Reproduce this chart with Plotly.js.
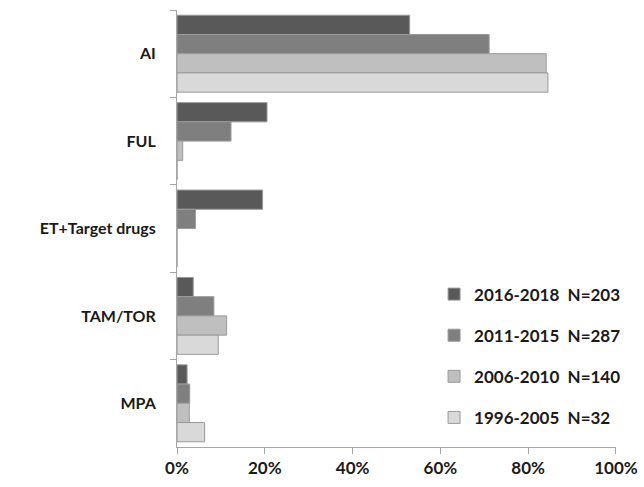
<!DOCTYPE html>
<html>
<head>
<meta charset="utf-8">
<script src="https://cdn.plot.ly/plotly-3.0.1.min.js"></script>
<style>html,body{margin:0;padding:0;background:#fff;}#chart{width:644px;height:487px;}</style>
</head>
<body>
<div id="chart"></div>
<script>
var categories = ["AI", "FUL", "ET+Target drugs", "TAM/TOR", "MPA"];
var seriesNames = ["2016-2018  N=203", "2011-2015  N=287", "2006-2010  N=140", "1996-2005  N=32"];
var s2016_2018 = [53.0, 20.5, 19.5, 3.7, 2.3];
var s2011_2015 = [71.1, 12.3, 4.2, 8.4, 2.9];
var s2006_2010 = [84.1, 1.3, 0, 11.3, 2.8];
var s1996_2005 = [84.5, 0, 0, 9.4, 6.3];
var xTickVals = [0, 20, 40, 60, 80, 100];
var xTickText = ["0%", "20%", "40%", "60%", "80%", "100%"];

var seriesValues = [s2016_2018, s2011_2015, s2006_2010, s1996_2005];
var colors = ["#595959", "#7f7f7f", "#bfbfbf", "#d9d9d9"];

var FONT = "Lato, 'Liberation Sans', Arial, sans-serif";

var traces = seriesValues.map(function (vals, i) {
  return {
    type: "bar",
    orientation: "h",
    name: seriesNames[i],
    legendgroup: "g" + i,
    y: categories,
    x: vals,
    marker: { color: colors[i], line: { color: "#9a9a9a", width: 1 } },
    hoverinfo: "x+y"
  };
});

var layout = {
  width: 644,
  height: 487,
  margin: { l: 177, r: 5, t: 10, b: 40 },
  paper_bgcolor: "#ffffff",
  plot_bgcolor: "#ffffff",
  barmode: "group",
  bargap: 0.12,
  bargroupgap: 0,
  font: { family: FONT, size: 16, color: "#1a1a1a" },
  showlegend: true,
  legend: {
    x: 0.972, xanchor: "right",
    y: 0.39, yanchor: "top",
    traceorder: "grouped",
    tracegroupgap: 16,
    font: { family: FONT, size: 17, color: "#1a1a1a", weight: "bold" },
    itemwidth: 30,
    bgcolor: "rgba(0,0,0,0)"
  },
  xaxis: {
    domain: [0, 0.9502],
    range: [0, 100],
    tickvals: xTickVals,
    ticktext: xTickText,
    showgrid: false,
    zeroline: false,
    showline: true,
    linecolor: "#a6a6a6",
    linewidth: 1,
    ticks: "outside",
    ticklen: 6,
    tickcolor: "#a6a6a6",
    tickfont: { family: FONT, size: 17, color: "#1a1a1a", weight: "bold" },
    automargin: false,
    fixedrange: true
  },
  yaxis: {
    type: "category",
    categoryorder: "array",
    categoryarray: categories,
    autorange: "reversed",
    showgrid: false,
    zeroline: false,
    showline: true,
    linecolor: "#a6a6a6",
    linewidth: 1,
    ticks: "outside",
    tickson: "boundaries",
    ticklen: 6,
    tickcolor: "#a6a6a6",
    ticklabelstandoff: 17,
    tickfont: { family: FONT, size: 16, color: "#1a1a1a", weight: "bold" },
    automargin: false,
    fixedrange: true
  }
};

Plotly.newPlot("chart", traces, layout, { displayModeBar: false, staticPlot: true });
</script>
</body>
</html>
